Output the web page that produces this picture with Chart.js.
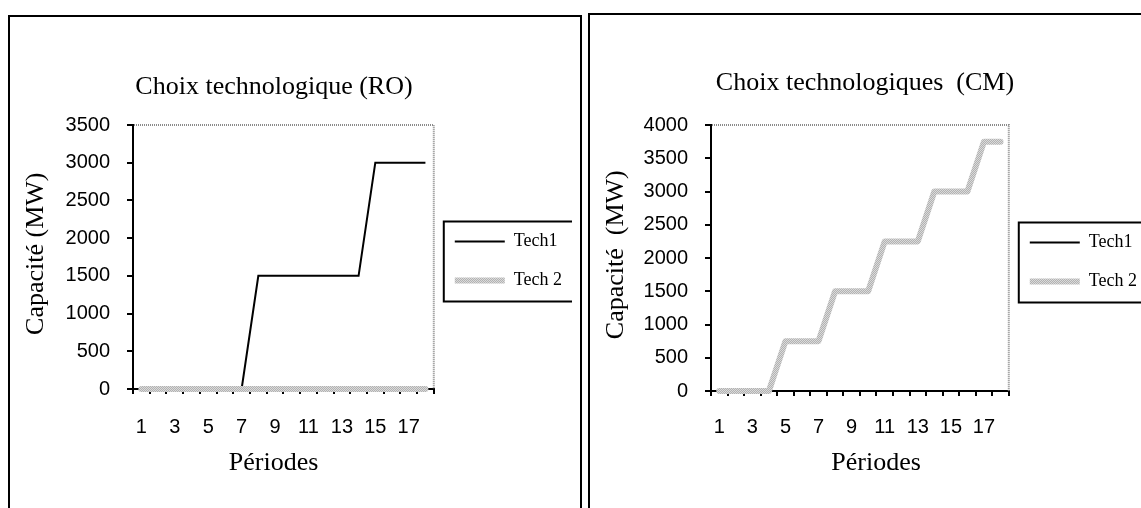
<!DOCTYPE html>
<html>
<head>
<meta charset="utf-8">
<script src="https://cdn.jsdelivr.net/npm/chart.js@4.4.0/dist/chart.umd.min.js"></script>
<style>
  html,body{margin:0;padding:0;background:#fff;}
  body{position:relative;width:1141px;height:508px;overflow:hidden;}
  .frame{position:absolute;box-sizing:border-box;border:2px solid #000;}
  canvas{position:absolute;top:0;}
</style>
</head>
<body>
<div class="frame" style="left:8px;top:15px;width:574px;height:600px;"></div>
<div class="frame" style="left:588px;top:13px;width:700px;height:600px;"></div>
<canvas id="chartRO" width="596" height="508" style="left:-24px;"></canvas>
<canvas id="chartCM" width="564" height="508" style="left:583px;"></canvas>
<script>
'use strict';
var periods=['1','2','3','4','5','6','7','8','9','10','11','12','13','14','15','16','17','18'];
var roTech1=[0,0,0,0,0,0,0,1500,1500,1500,1500,1500,1500,1500,3000,3000,3000,3000];
var roTech2=[0,0,0,0,0,0,0,0,0,0,0,0,0,0,0,0,0,0];
var cmTech1=[0,0,0,0,0,0,0,0,0,0,0,0,0,0,0,0,0,0];
var cmTech2=[0,0,0,0,750,750,750,1500,1500,1500,2250,2250,2250,3000,3000,3000,3750,3750];
var seriesNames=['Tech1','Tech 2'];

var serif='"Liberation Serif", "Times New Roman", serif';
var sans='"Liberation Sans", Arial, sans-serif';

// grey hatched line like the Excel pattern
function greyPattern(ctx){
  var c=document.createElement('canvas');c.width=2;c.height=2;
  var g=c.getContext('2d');
  g.fillStyle='#dadada';g.fillRect(0,0,2,2);
  g.fillStyle='#b2b2b2';g.fillRect(0,0,1,1);g.fillRect(1,1,1,1);
  return ctx.createPattern(c,'repeat');
}

var plotFrame={
  id:'plotFrame',
  beforeDatasetsDraw:function(chart){
    var a=chart.chartArea,c=chart.ctx;
    c.save();c.strokeStyle='#8a8a8a';c.lineWidth=2;c.setLineDash([1,1]);
    c.beginPath();c.moveTo(a.left+1,a.top);c.lineTo(a.right,a.top);c.lineTo(a.right,a.bottom);c.stroke();
    c.restore();
  }
};
var legendFrame={
  id:'legendFrame',
  afterDraw:function(chart){
    var hb=chart.legend.legendHitBoxes,c=chart.ctx;
    if(!hb||hb.length<2)return;
    var x0=hb[0].left-11,y0=hb[0].top+hb[0].height/2-20,y1=hb[1].top+hb[1].height/2+21;
    c.save();c.strokeStyle='#000';c.lineWidth=2;
    c.strokeRect(x0,y0,132,y1-y0);
    c.restore();
  }
};

function makeChart(id,t1,t2,o){
  var el=document.getElementById(id);
  var pat=greyPattern(el.getContext('2d'));
  return new Chart(el,{
    type:'line',
    data:{
      labels:periods,
      datasets:[
        {label:seriesNames[0],data:t1,borderColor:'#000',backgroundColor:'#000',borderWidth:2,pointRadius:0,pointHoverRadius:0,tension:0,order:1,clip:false},
        {label:seriesNames[1],data:t2,borderColor:pat,backgroundColor:pat,borderWidth:6,borderCapStyle:'round',borderJoinStyle:'round',pointRadius:0,pointHoverRadius:0,tension:0,order:0,clip:false}
      ]
    },
    options:{
      responsive:false,animation:false,devicePixelRatio:1,
      layout:{padding:0},
      events:[],
      plugins:{
        title:{display:true,text:o.title,color:'#000',font:{family:serif,size:26,weight:'normal',lineHeight:1.2},padding:{top:o.titleTop,bottom:125-o.titleTop-31.2}},
        legend:{
          position:'right',fullSize:false,align:'center',
          title:{display:true,text:'',font:{size:8,lineHeight:1},padding:0},
          labels:{usePointStyle:true,pointStyle:'line',pointStyleWidth:50,padding:21,color:'#000',font:{family:serif,size:18},
            sort:function(a,b){return a.datasetIndex-b.datasetIndex;}}
        },
        tooltip:{enabled:false}
      },
      scales:{
        x:{
          offset:true,
          afterFit:function(s){s.height=508-o.bottom;},
          grid:{offset:true,drawOnChartArea:false,drawTicks:true,tickLength:5,color:'#000',lineWidth:2},
          border:{display:true,color:'#000',width:2},
          ticks:{autoSkip:false,maxRotation:0,minRotation:0,padding:o.xPad,color:'#000',font:{family:sans,size:20},
            callback:function(v,i){return i%2===0?this.getLabelForValue(v):'';}},
          title:{display:true,text:o.xTitle,color:'#000',font:{family:serif,size:26,lineHeight:1.2},padding:{top:0,bottom:29}}
        },
        y:{
          min:0,max:o.max,
          afterFit:function(s){s.width=o.yWidth;},
          grid:{drawOnChartArea:false,drawTicks:true,tickLength:6,color:'#000',lineWidth:2},
          border:{display:true,color:'#000',width:2},
          ticks:{stepSize:500,padding:17,color:'#000',font:{family:sans,size:20},
            callback:function(v){return String(v);}},
          title:{display:true,text:o.yTitle,color:'#000',font:{family:serif,size:26,lineHeight:1.2},padding:{top:o.yTitleTop,bottom:0}}
        }
      }
    },
    plugins:[plotFrame,legendFrame]
  });
}

makeChart('chartRO',roTech1,roTech2,{
  title:'Choix technologique (RO)',titleTop:72,
  max:3500,bottom:389,xPad:21,yWidth:157,yTitleTop:45,
  xTitle:'Périodes   ',yTitle:' Capacité (MW)'
});
makeChart('chartCM',cmTech1,cmTech2,{
  title:'Choix technologiques  (CM)',titleTop:68,
  max:4000,bottom:391,xPad:19,yWidth:128,yTitleTop:18,
  xTitle:'     Périodes',yTitle:' Capacité  (MW)'
});
</script>
</body>
</html>
